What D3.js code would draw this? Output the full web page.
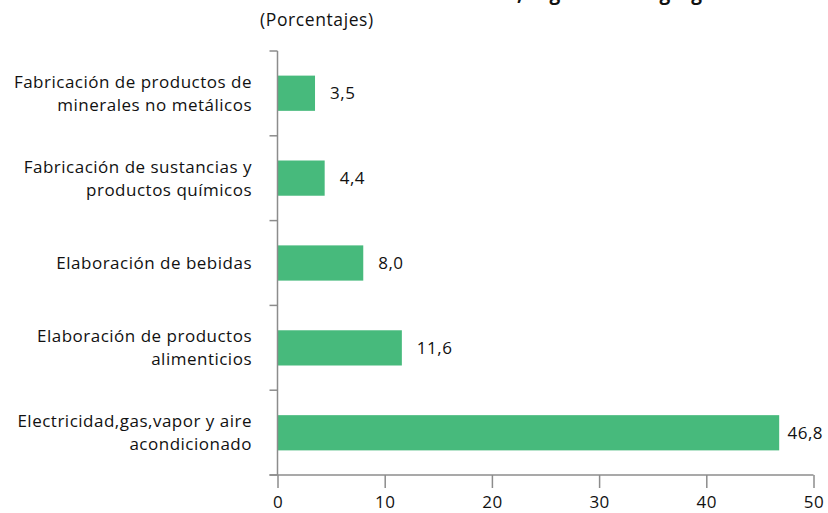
<!DOCTYPE html>
<html><head><meta charset="utf-8">
<script src="https://cdn.jsdelivr.net/npm/d3@7"></script>
<style>body{margin:0;background:#fff}svg{display:block}text{font-family:"Open Sans",sans-serif;fill:#111}</style>
</head><body><svg id="c" width="828" height="513"></svg>
<script>
const categories = [
  ["Fabricación de productos de", "minerales no metálicos"],
  ["Fabricación de sustancias y", "productos químicos"],
  ["Elaboración de bebidas"],
  ["Elaboración de productos", "alimenticios"],
  ["Electricidad,gas,vapor y aire", "acondicionado"]
];
const values = [3.5, 4.4, 8.0, 11.6, 46.8];
const valueLabels = ["3,5", "4,4", "8,0", "11,6", "46,8"];
const xTicks = [0, 10, 20, 30, 40, 50];
const titlePrefix = "Industria manufacturera";
const titleSuffix = ", según valor agregado";
const subtitle = "(Porcentajes)";

const FS = 17, LS = 0.5;
const svg = d3.select("#c");
const x = d3.scaleLinear().domain([0, 50]).range([277.5, 813.5]);
const y = d3.scaleBand().domain(d3.range(categories.length)).range([51, 475]).paddingInner(0.585).paddingOuter(0.29);
const yTickPos = d3.range(categories.length + 1).map(i => 51 + i * (475 - 51) / categories.length);

// title (cropped at top in reference)
svg.append("text").attr("x", 517).attr("y", 0).attr("text-anchor", "end")
  .attr("font-size", 19).attr("font-weight", "bold").text(titlePrefix);
svg.append("text").attr("x", 517).attr("y", 0).attr("text-anchor", "start")
  .attr("font-size", 19).attr("font-weight", "bold").attr("letter-spacing", 0.4).text(titleSuffix);
svg.append("text").attr("x", 260).attr("y", 26).attr("font-size", 17.5).attr("letter-spacing", 0.6).text(subtitle);

// bars
svg.selectAll("rect.bar").data(values).join("rect").attr("class", "bar")
  .attr("x", x(0)).attr("y", (d, i) => y(i)).attr("width", d => x(d) - x(0))
  .attr("height", y.bandwidth()).attr("fill", "#47BA7C");

// value labels
svg.selectAll("text.val").data(values).join("text").attr("class", "val")
  .attr("y", (d, i) => y(i) + y.bandwidth() / 2)
  .attr("dy", "0.35em").attr("font-size", FS).attr("letter-spacing", LS).text((d, i) => valueLabels[i])
  .attr("x", function(d) {
    const w = this.getComputedTextLength();
    return Math.min(x(d) + 15, 823 - w);
  });

// x axis
const xAxis = d3.axisBottom(x).tickValues(xTicks).tickSize(13).tickFormat(d3.format("d"));
const gx = svg.append("g").attr("transform", "translate(0,475)").call(xAxis);
gx.select(".domain").attr("stroke", "#8c8c8c").attr("stroke-width", 1.5).attr("d", `M${x(0)-8},0H${x(50)}`);
gx.selectAll(".tick line").attr("stroke", "#8c8c8c").attr("stroke-width", 1.5);
gx.selectAll(".tick text").attr("font-size", FS).attr("letter-spacing", LS).attr("y", 20.5).attr("fill", "#111").style("font-family", "'Open Sans',sans-serif");

// y axis
svg.append("line").attr("x1", x(0)).attr("x2", x(0)).attr("y1", 51).attr("y2", 475)
  .attr("stroke", "#8c8c8c").attr("stroke-width", 1.5);
svg.selectAll("line.yt").data(yTickPos).join("line").attr("class", "yt")
  .attr("x1", x(0) - 8).attr("x2", x(0)).attr("y1", d => d).attr("y2", d => d)
  .attr("stroke", "#8c8c8c").attr("stroke-width", 1.5);

// category labels
const lab = svg.selectAll("text.cat").data(categories).join("text").attr("class", "cat")
  .attr("text-anchor", "end").attr("font-size", FS).attr("letter-spacing", LS);
lab.each(function(lines, i) {
  const cy = y(i) + y.bandwidth() / 2;
  const lh = 23;
  const start = cy - (lines.length - 1) * lh / 2;
  d3.select(this).selectAll("tspan").data(lines).join("tspan")
    .attr("x", 252).attr("y", (d, j) => start + j * lh).attr("dy", "0.35em").text(d => d);
});
</script></body></html>
